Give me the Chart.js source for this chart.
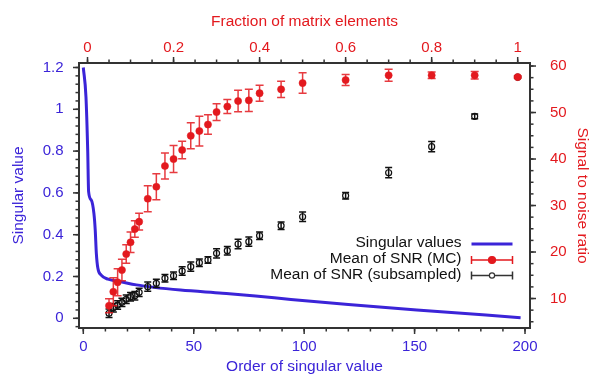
<!DOCTYPE html>
<html>
<head>
<meta charset="utf-8">
<script src="https://cdn.jsdelivr.net/npm/chart.js@4/dist/chart.umd.min.js"></script>
<style>
  html, body { margin: 0; padding: 0; background: #fff; }
  #wrap { width: 590px; height: 375px; }
</style>
</head>
<body>
<div id="wrap"><canvas id="chart"></canvas></div>
<script>
// ── data ─────────────────────────────────────────────────────────────────────
const svOrder = [0, 1.2, 2.0, 2.4, 3.6, 4.8, 5.4, 5.9, 6.6, 8.1, 11.2, 17, 24, 32, 44, 63, 78, 94, 120, 151, 198];
const svValue = [1.2, 1.06, 0.8, 0.606, 0.566, 0.502, 0.422, 0.311, 0.239, 0.207, 0.187, 0.175, 0.16, 0.148, 0.135, 0.12, 0.107, 0.09, 0.066, 0.04, 0.003];

const fraction = [0.05, 0.06, 0.07, 0.08, 0.09, 0.10, 0.11, 0.12, 0.14, 0.16, 0.18, 0.20, 0.22, 0.24,
                  0.26, 0.28, 0.30, 0.325, 0.35, 0.375, 0.40, 0.45, 0.50, 0.60, 0.70, 0.80, 0.90, 1.00];
const mcSnr  = [8.45, 11.46, 13.5, 16.13, 19.57, 22.09, 24.95, 26.52, 31.46, 34.04, 38.5, 40.0, 41.94, 45.01,
                46.02, 47.42, 50.11, 51.29, 52.47, 52.62, 54.15, 54.99, 56.34, 56.99, 58.0, 58.0, 58.0, 57.63];
const mcErr  = [1.5, 3.0, 2.9, 2.3, 2.0, 2.2, 1.8, 1.8, 2.8, 2.8, 2.8, 2.9, 1.9, 2.8,
                3.2, 2.1, 1.8, 1.5, 2.3, 2.4, 1.7, 1.75, 2.2, 1.2, 1.3, 0.7, 0.8, 0.2];
const subSnr = [6.82, 8.02, 8.6, 9.18, 9.83, 10.39, 10.6, 11.33, 12.54, 13.27, 14.34, 14.9, 15.91, 16.84,
                17.7, 18.28, 19.72, 20.28, 21.72, 22.22, 23.51, 25.66, 27.59, 32.11, 37.05, 42.65, 49.18, 57.63];
const subErr = [0.9, 0.9, 0.9, 0.9, 0.9, 0.9, 0.9, 0.9, 1.0, 0.9, 0.8, 0.8, 0.9, 1.0,
                0.8, 0.7, 1.0, 0.9, 1.0, 1.0, 0.8, 0.8, 1.0, 0.7, 1.1, 1.1, 0.5, 0.2];

const leftTicks   = [0, 0.2, 0.4, 0.6, 0.8, 1, 1.2];
const bottomTicks = [0, 50, 100, 150, 200];
const topTicks    = [0, 0.2, 0.4, 0.6, 0.8, 1];
const rightTicks  = [10, 20, 30, 40, 50, 60];

const legendLabels = ['Singular values', 'Mean of SNR (MC)', 'Mean of SNR (subsampled)'];

// ── styling ──────────────────────────────────────────────────────────────────
const BLUE = '#3b24d8';
const RED = '#e3191e';
const FRAME = '#333';
const FONT = 'Liberation Sans, Arial, Helvetica, sans-serif';

function steps(from, to, step) {
  const out = [];
  for (let v = from; v <= to + 1e-9; v += step) out.push(+v.toFixed(4));
  return out;
}
const minor = {
  y:  steps(-0.04, 1.2, 0.04),
  x:  steps(0, 200, 10),
  x2: steps(0, 1, 0.05),
  y2: steps(5, 60, 2.5)
};
const major = { y: leftTicks, x: bottomTicks, x2: topTicks, y2: rightTicks };

const fixTicks = list => scale => { scale.ticks = list.map(v => ({ value: v })); };

function fmt(v) { return String(+v.toFixed(2)); }

// error bars drawn through the scales
const errorBars = {
  id: 'errorBars',
  beforeDatasetDraw(chart, args) {
    const ds = chart.data.datasets[args.index];
    if (!ds.errors) return;
    const xs = chart.scales[ds.xAxisID], ys = chart.scales[ds.yAxisID];
    const ctx = chart.ctx;
    ctx.save();
    ctx.strokeStyle = ds.errColor;
    ctx.lineWidth = 1.5;
    ds.data.forEach((p, i) => {
      const px = xs.getPixelForValue(p.x);
      const top = ys.getPixelForValue(p.y + ds.errors[i]);
      const bot = ys.getPixelForValue(p.y - ds.errors[i]);
      ctx.beginPath();
      ctx.moveTo(px, top); ctx.lineTo(px, bot);
      ctx.moveTo(px - ds.cap, top); ctx.lineTo(px + ds.cap, top);
      ctx.moveTo(px - ds.cap, bot); ctx.lineTo(px + ds.cap, bot);
      ctx.stroke();
    });
    ctx.restore();
  }
};

// major / minor ticks outside the frame, plus the legend
const decorations = {
  id: 'decorations',
  afterDraw(chart) {
    const ctx = chart.ctx, a = chart.chartArea;
    ctx.save();
    ctx.strokeStyle = FRAME;
    ctx.lineWidth = 1.5;
    Object.keys(major).forEach(id => {
      const s = chart.scales[id];
      const draw = (v, len) => {
        const p = s.getPixelForValue(v);
        ctx.beginPath();
        if (id === 'y')  { ctx.moveTo(a.left, p);   ctx.lineTo(a.left - len, p); }
        if (id === 'y2') { ctx.moveTo(a.right, p);  ctx.lineTo(a.right + len, p); }
        if (id === 'x')  { ctx.moveTo(p, a.bottom); ctx.lineTo(p, a.bottom + len); }
        if (id === 'x2') { ctx.moveTo(p, a.top);    ctx.lineTo(p, a.top - len); }
        ctx.stroke();
      };
      minor[id].forEach(v => draw(v, 3.5));
      major[id].forEach(v => draw(v, 6));
    });

    // legend
    const textRight = 461.5, x0 = 471.5, x1 = 512.5;
    const rows = [244, 260, 275.5];
    ctx.font = '15.5px ' + FONT;
    ctx.fillStyle = '#111';
    ctx.textAlign = 'right';
    ctx.textBaseline = 'middle';
    legendLabels.forEach((t, i) => ctx.fillText(t, textRight, rows[i] - 1));

    ctx.strokeStyle = BLUE; ctx.lineWidth = 3;
    ctx.beginPath(); ctx.moveTo(x0, rows[0]); ctx.lineTo(x1, rows[0]); ctx.stroke();

    [[RED, rows[1], 3.5, RED], [FRAME, rows[2], 2.6, '#fff']].forEach(([c, y, r, fill]) => {
      ctx.strokeStyle = c; ctx.lineWidth = 1.5;
      ctx.beginPath();
      ctx.moveTo(x0, y); ctx.lineTo(x1, y);
      ctx.moveTo(x0, y - 4); ctx.lineTo(x0, y + 4);
      ctx.moveTo(x1, y - 4); ctx.lineTo(x1, y + 4);
      ctx.stroke();
      ctx.beginPath();
      ctx.arc((x0 + x1) / 2, y, r, 0, Math.PI * 2);
      ctx.fillStyle = fill; ctx.fill();
      ctx.lineWidth = 1.2; ctx.stroke();
    });
    ctx.restore();
  }
};

function axis(opts) {
  const { position, min, max, ticks, color, title, size, pad, titlePad, lineHeight } = opts;
  const horiz = position === 'top' || position === 'bottom';
  return {
    type: 'linear',
    position,
    min, max,
    afterBuildTicks: fixTicks(ticks),
    afterFit: s => { if (horiz) s.height = size; else s.width = size; },
    grid: { display: false, drawTicks: false },
    border: { display: true, color: FRAME, width: 2 },
    ticks: {
      color, padding: pad, font: { family: FONT, size: 15 },
      maxRotation: 0, autoSkip: false, callback: v => fmt(v)
    },
    title: {
      display: true, text: title, color,
      font: { family: FONT, size: 15.5, lineHeight: lineHeight || 1.2 },
      padding: titlePad
    }
  };
}

new Chart(document.getElementById('chart'), {
  type: 'scatter',
  data: {
    datasets: [
      {
        label: legendLabels[1],
        data: fraction.map((f, i) => ({ x: f, y: mcSnr[i] })),
        xAxisID: 'x2', yAxisID: 'y2',
        errors: mcErr, errColor: 'rgba(227,25,30,0.85)', cap: 4,
        pointRadius: 3.6, pointBackgroundColor: RED, pointBorderColor: RED, pointBorderWidth: 0.5,
        showLine: false
      },
      {
        label: legendLabels[2],
        data: fraction.map((f, i) => ({ x: f, y: subSnr[i] })),
        xAxisID: 'x2', yAxisID: 'y2',
        errors: subErr, errColor: '#111', cap: 3.5,
        pointRadius: 3, pointBackgroundColor: 'rgba(255,255,255,0)', pointBorderColor: '#111', pointBorderWidth: 1.2,
        showLine: false
      },
      {
        label: legendLabels[0],
        data: svOrder.map((o, i) => ({ x: o, y: svValue[i] })),
        xAxisID: 'x', yAxisID: 'y',
        showLine: true, borderColor: BLUE, borderWidth: 3, pointRadius: 0,
        cubicInterpolationMode: 'monotone'
      }
    ]
  },
  options: {
    responsive: true,
    maintainAspectRatio: false,
    animation: false,
    layout: { padding: 0 },
    plugins: { legend: { display: false }, tooltip: { enabled: false } },
    scales: {
      x:  axis({ position: 'bottom', min: -1.95, max: 202.26, ticks: bottomTicks, color: BLUE,
                 title: 'Order of singular value', size: 47, pad: 10, titlePad: { top: 0, bottom: 0.5 }, lineHeight: 1 }),
      x2: axis({ position: 'top', min: -0.0198, max: 1.0286, ticks: topTicks, color: RED,
                 title: 'Fraction of matrix elements', size: 63, pad: 6, titlePad: { top: 12.5, bottom: 0 } }),
      y:  axis({ position: 'left', min: -0.0464, max: 1.2215, ticks: leftTicks, color: BLUE,
                 title: 'Singular value', size: 79, pad: 15.5, titlePad: { top: 9.5, bottom: 0 } }),
      y2: axis({ position: 'right', min: 3.66, max: 60.65, ticks: rightTicks, color: RED,
                 title: 'Signal to noise ratio', size: 60, pad: 20, titlePad: { top: 0, bottom: 0 }, lineHeight: 1 })
    }
  },
  plugins: [errorBars, decorations]
});
</script>
</body>
</html>
